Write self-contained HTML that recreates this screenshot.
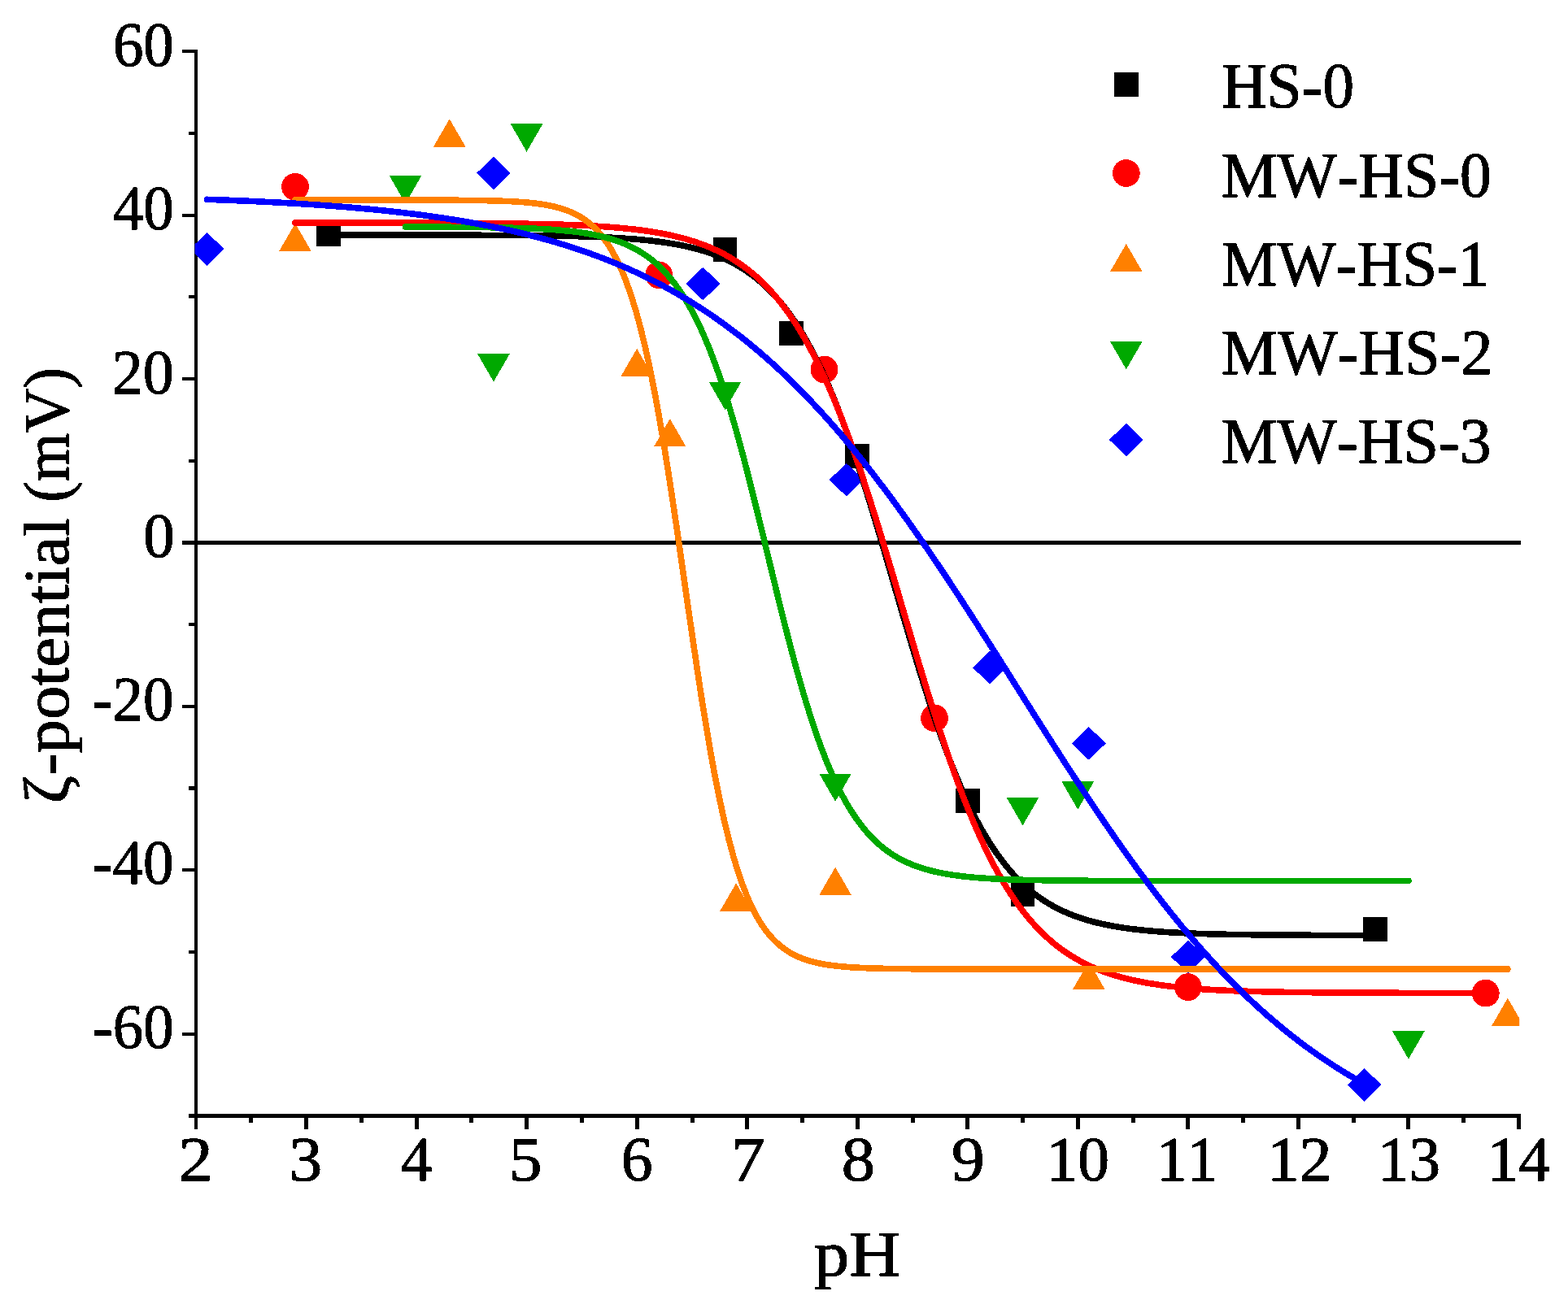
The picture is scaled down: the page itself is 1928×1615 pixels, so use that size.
<!DOCTYPE html>
<html lang="en"><head><meta charset="utf-8"><title>ζ-potential vs pH</title>
<style>html,body{margin:0;padding:0;background:#fff}body{width:1928px;height:1615px}svg{display:block}text{font-family:"Liberation Serif",serif;fill:#000;font-kerning:none;white-space:pre;text-rendering:geometricPrecision}</style>
</head><body>
<svg width="1928" height="1615" viewBox="0 0 1928 1615" shape-rendering="crispEdges">
<rect width="1928" height="1615" fill="#fff"/>
<defs><filter id="bin" x="0" y="0" width="1928" height="1615" filterUnits="userSpaceOnUse" color-interpolation-filters="sRGB"><feComponentTransfer><feFuncA type="discrete" tableValues="0 1 1"/></feComponentTransfer></filter>
<clipPath id="plot"><rect x="239.60" y="0" width="1628.60" height="1372.50"/></clipPath></defs>
<g fill="#000"><rect x="239.20" y="60.90" width="3.80" height="1328.00"/><rect x="232.00" y="1370.00" width="1638.10" height="5.00"/><rect x="223.90" y="60.88" width="17.20" height="4.15"/><rect x="232.00" y="161.61" width="9.10" height="4.15"/><rect x="223.90" y="263.12" width="17.20" height="4.15"/><rect x="232.00" y="363.08" width="9.10" height="4.15"/><rect x="223.90" y="463.93" width="17.20" height="4.15"/><rect x="232.00" y="564.55" width="9.10" height="4.15"/><rect x="223.90" y="665.38" width="17.20" height="4.15"/><rect x="232.00" y="766.02" width="9.10" height="4.15"/><rect x="223.90" y="866.82" width="17.20" height="4.15"/><rect x="232.00" y="967.49" width="9.10" height="4.15"/><rect x="223.90" y="1068.22" width="17.20" height="4.15"/><rect x="232.00" y="1168.96" width="9.10" height="4.15"/><rect x="223.90" y="1269.69" width="17.20" height="4.15"/><rect x="306.37" y="1372.50" width="5.00" height="8.50"/><rect x="374.13" y="1372.50" width="5.00" height="16.40"/><rect x="441.90" y="1372.50" width="5.00" height="8.50"/><rect x="509.67" y="1372.50" width="5.00" height="16.40"/><rect x="577.43" y="1372.50" width="5.00" height="8.50"/><rect x="645.20" y="1372.50" width="5.00" height="16.40"/><rect x="712.97" y="1372.50" width="5.00" height="8.50"/><rect x="780.73" y="1372.50" width="5.00" height="16.40"/><rect x="848.50" y="1372.50" width="5.00" height="8.50"/><rect x="916.27" y="1372.50" width="5.00" height="16.40"/><rect x="984.03" y="1372.50" width="5.00" height="8.50"/><rect x="1051.80" y="1372.50" width="5.00" height="16.40"/><rect x="1119.57" y="1372.50" width="5.00" height="8.50"/><rect x="1187.33" y="1372.50" width="5.00" height="16.40"/><rect x="1255.10" y="1372.50" width="5.00" height="8.50"/><rect x="1322.87" y="1372.50" width="5.00" height="16.40"/><rect x="1390.63" y="1372.50" width="5.00" height="8.50"/><rect x="1458.40" y="1372.50" width="5.00" height="16.40"/><rect x="1526.17" y="1372.50" width="5.00" height="8.50"/><rect x="1593.93" y="1372.50" width="5.00" height="16.40"/><rect x="1661.70" y="1372.50" width="5.00" height="8.50"/><rect x="1729.47" y="1372.50" width="5.00" height="16.40"/><rect x="1797.23" y="1372.50" width="5.00" height="8.50"/><rect x="1865.00" y="1372.50" width="5.00" height="16.40"/><rect x="241.10" y="665.00" width="1629.00" height="5.00"/></g>
<g clip-path="url(#plot)">
<g fill="#000000"><rect x="388.74" y="273.10" width="29.80" height="29.80"/><rect x="876.66" y="291.80" width="29.80" height="29.80"/><rect x="957.98" y="395.10" width="29.80" height="29.80"/><rect x="1039.30" y="545.80" width="29.80" height="29.80"/><rect x="1174.83" y="970.00" width="29.80" height="29.80"/><rect x="1242.60" y="1084.90" width="29.80" height="29.80"/><rect x="1676.31" y="1128.10" width="29.80" height="29.80"/></g>
<g fill="#ff0000"><circle cx="362.98" cy="229.80" r="16.90"/><circle cx="810.24" cy="338.30" r="16.90"/><circle cx="1013.54" cy="454.60" r="16.90"/><circle cx="1149.07" cy="883.30" r="16.90"/><circle cx="1460.80" cy="1214.10" r="16.90"/><circle cx="1826.74" cy="1221.60" r="16.90"/></g>
<g fill="#ff8000"><path d="M362.98 274.70L382.78 309.00L343.18 309.00Z"/><path d="M552.73 146.30L572.53 180.60L532.93 180.60Z"/><path d="M783.13 428.80L802.93 463.10L763.33 463.10Z"/><path d="M823.79 515.10L843.59 549.40L803.99 549.40Z"/><path d="M905.11 1086.30L924.91 1120.60L885.31 1120.60Z"/><path d="M1027.09 1066.60L1046.89 1100.90L1007.29 1100.90Z"/><path d="M1338.82 1182.70L1358.62 1217.00L1319.02 1217.00Z"/><path d="M1853.85 1227.70L1873.65 1262.00L1834.05 1262.00Z"/></g>
<g fill="#00a900"><path d="M478.71 216.10L518.31 216.10L498.51 250.40Z"/><path d="M587.14 435.30L626.74 435.30L606.94 469.60Z"/><path d="M627.80 152.40L667.40 152.40L647.60 186.70Z"/><path d="M871.76 469.90L911.36 469.90L891.56 504.20Z"/><path d="M1007.29 951.60L1046.89 951.60L1027.09 985.90Z"/><path d="M1237.70 981.10L1277.30 981.10L1257.50 1015.40Z"/><path d="M1305.47 961.40L1345.07 961.40L1325.27 995.70Z"/><path d="M1712.07 1268.40L1751.67 1268.40L1731.87 1302.70Z"/></g>
<g fill="#0000ff"><path d="M254.55 285.80L275.45 306.20L254.55 326.60L233.65 306.20Z"/><path d="M606.94 192.50L627.84 212.90L606.94 233.30L586.04 212.90Z"/><path d="M864.45 328.60L885.35 349.00L864.45 369.40L843.55 349.00Z"/><path d="M1040.65 569.70L1061.55 590.10L1040.65 610.50L1019.75 590.10Z"/><path d="M1216.84 800.70L1237.74 821.10L1216.84 841.50L1195.94 821.10Z"/><path d="M1338.82 894.00L1359.72 914.40L1338.82 934.80L1317.92 914.40Z"/><path d="M1460.80 1156.60L1481.70 1177.00L1460.80 1197.40L1439.90 1177.00Z"/><path d="M1677.65 1313.90L1698.55 1334.30L1677.65 1354.70L1656.75 1334.30Z"/></g>
<path d="M403.6 289.0L408.6 289.0L413.5 289.0L418.5 289.0L423.4 289.0L428.4 289.0L433.4 289.0L438.3 289.0L443.3 289.0L448.2 289.0L453.2 289.0L458.1 289.0L463.1 289.0L468.0 289.0L473.0 289.0L477.9 289.0L482.9 289.0L487.8 289.0L492.8 289.1L497.7 289.1L502.7 289.1L507.6 289.1L512.6 289.1L517.5 289.1L522.5 289.1L527.4 289.1L532.4 289.1L537.3 289.1L542.3 289.1L547.3 289.1L552.2 289.1L557.2 289.1L562.1 289.2L567.1 289.2L572.0 289.2L577.0 289.2L581.9 289.2L586.9 289.2L591.8 289.3L596.8 289.3L601.7 289.3L606.7 289.3L611.6 289.3L616.6 289.4L621.5 289.4L626.5 289.4L631.4 289.5L636.4 289.5L641.3 289.6L646.3 289.6L651.2 289.7L656.2 289.7L661.2 289.8L666.1 289.8L671.1 289.9L676.0 290.0L681.0 290.0L685.9 290.1L690.9 290.2L695.8 290.3L700.8 290.4L705.7 290.6L710.7 290.7L715.6 290.8L720.6 291.0L725.5 291.1L730.5 291.3L735.4 291.5L740.4 291.7L745.3 291.9L750.3 292.2L755.2 292.4L760.2 292.7L765.1 293.0L770.1 293.4L775.1 293.7L780.0 294.1L785.0 294.5L789.9 295.0L794.9 295.5L799.8 296.0L804.8 296.6L809.7 297.2L814.7 297.9L819.6 298.6L824.6 299.4L829.5 300.2L834.5 301.1L839.4 302.1L844.4 303.2L849.3 304.3L854.3 305.6L859.2 306.9L864.2 308.4L869.1 309.9L874.1 311.6L879.0 313.4L884.0 315.4L889.0 317.5L893.9 319.8L898.9 322.2L903.8 324.8L908.8 327.7L913.7 330.7L918.7 334.0L923.6 337.5L928.6 341.2L933.5 345.3L938.5 349.6L943.4 354.2L948.4 359.2L953.3 364.5L958.3 370.1L963.2 376.1L968.2 382.6L973.1 389.4L978.1 396.7L983.0 404.4L988.0 412.5L992.9 421.2L997.9 430.3L1002.9 439.9L1007.8 450.1L1012.8 460.7L1017.7 471.9L1022.7 483.6L1027.6 495.8L1032.6 508.5L1037.5 521.8L1042.5 535.5L1047.4 549.7L1052.4 564.4L1057.3 579.4L1062.3 594.9L1067.2 610.8L1072.2 626.9L1077.1 643.4L1082.1 660.0L1087.0 676.9L1092.0 693.9L1096.9 710.9L1101.9 728.0L1106.8 745.1L1111.8 762.1L1116.8 778.9L1121.7 795.6L1126.7 812.1L1131.6 828.2L1136.6 844.1L1141.5 859.6L1146.5 874.7L1151.4 889.3L1156.4 903.5L1161.3 917.3L1166.3 930.5L1171.2 943.3L1176.2 955.5L1181.1 967.2L1186.1 978.4L1191.0 989.1L1196.0 999.3L1200.9 1008.9L1205.9 1018.1L1210.8 1026.7L1215.8 1034.9L1220.7 1042.6L1225.7 1049.9L1230.7 1056.7L1235.6 1063.2L1240.6 1069.2L1245.5 1074.9L1250.5 1080.2L1255.4 1085.1L1260.4 1089.8L1265.3 1094.1L1270.3 1098.1L1275.2 1101.9L1280.2 1105.4L1285.1 1108.7L1290.1 1111.7L1295.0 1114.6L1300.0 1117.2L1304.9 1119.7L1309.9 1121.9L1314.8 1124.0L1319.8 1126.0L1324.7 1127.8L1329.7 1129.5L1334.6 1131.1L1339.6 1132.5L1344.6 1133.9L1349.5 1135.1L1354.5 1136.3L1359.4 1137.3L1364.4 1138.3L1369.3 1139.3L1374.3 1140.1L1379.2 1140.9L1384.2 1141.6L1389.1 1142.3L1394.1 1142.9L1399.0 1143.5L1404.0 1144.0L1408.9 1144.5L1413.9 1145.0L1418.8 1145.4L1423.8 1145.8L1428.7 1146.1L1433.7 1146.5L1438.6 1146.8L1443.6 1147.0L1448.5 1147.3L1453.5 1147.6L1458.5 1147.8L1463.4 1148.0L1468.4 1148.2L1473.3 1148.4L1478.3 1148.5L1483.2 1148.7L1488.2 1148.8L1493.1 1148.9L1498.1 1149.1L1503.0 1149.2L1508.0 1149.3L1512.9 1149.4L1517.9 1149.4L1522.8 1149.5L1527.8 1149.6L1532.7 1149.7L1537.7 1149.7L1542.6 1149.8L1547.6 1149.8L1552.5 1149.9L1557.5 1149.9L1562.4 1150.0L1567.4 1150.0L1572.4 1150.1L1577.3 1150.1L1582.3 1150.1L1587.2 1150.2L1592.2 1150.2L1597.1 1150.2L1602.1 1150.2L1607.0 1150.2L1612.0 1150.3L1616.9 1150.3L1621.9 1150.3L1626.8 1150.3L1631.8 1150.3L1636.7 1150.3L1641.7 1150.4L1646.6 1150.4L1651.6 1150.4L1656.5 1150.4L1661.5 1150.4L1666.4 1150.4L1671.4 1150.4L1676.4 1150.4L1681.3 1150.4L1686.3 1150.4L1691.2 1150.4" fill="none" stroke="#000000" stroke-width="7.60" stroke-linecap="round" stroke-linejoin="round"/>
<path d="M363.0 274.0L368.6 274.0L374.2 274.0L379.9 274.0L385.5 274.0L391.1 274.0L396.8 274.0L402.4 274.0L408.0 274.0L413.6 274.0L419.3 274.0L424.9 274.0L430.5 274.1L436.2 274.1L441.8 274.1L447.4 274.1L453.1 274.1L458.7 274.1L464.3 274.1L469.9 274.1L475.6 274.1L481.2 274.1L486.8 274.1L492.5 274.1L498.1 274.1L503.7 274.2L509.4 274.2L515.0 274.2L520.6 274.2L526.2 274.2L531.9 274.2L537.5 274.3L543.1 274.3L548.8 274.3L554.4 274.3L560.0 274.3L565.7 274.4L571.3 274.4L576.9 274.4L582.5 274.5L588.2 274.5L593.8 274.6L599.4 274.6L605.1 274.7L610.7 274.7L616.3 274.8L622.0 274.8L627.6 274.9L633.2 275.0L638.8 275.1L644.5 275.2L650.1 275.3L655.7 275.4L661.4 275.5L667.0 275.6L672.6 275.8L678.3 275.9L683.9 276.1L689.5 276.2L695.1 276.4L700.8 276.6L706.4 276.8L712.0 277.1L717.7 277.3L723.3 277.6L728.9 277.9L734.5 278.3L740.2 278.6L745.8 279.0L751.4 279.4L757.1 279.9L762.7 280.4L768.3 280.9L774.0 281.5L779.6 282.1L785.2 282.8L790.8 283.5L796.5 284.3L802.1 285.2L807.7 286.1L813.4 287.1L819.0 288.2L824.6 289.4L830.3 290.7L835.9 292.1L841.5 293.5L847.1 295.2L852.8 296.9L858.4 298.8L864.0 300.8L869.7 303.0L875.3 305.4L880.9 307.9L886.6 310.7L892.2 313.6L897.8 316.8L903.4 320.3L909.1 324.0L914.7 327.9L920.3 332.2L926.0 336.8L931.6 341.7L937.2 347.0L942.9 352.6L948.5 358.7L954.1 365.1L959.7 372.0L965.4 379.4L971.0 387.2L976.6 395.6L982.3 404.4L987.9 413.8L993.5 423.7L999.2 434.2L1004.8 445.3L1010.4 456.9L1016.0 469.2L1021.7 482.0L1027.3 495.5L1032.9 509.5L1038.6 524.2L1044.2 539.4L1049.8 555.1L1055.5 571.4L1061.1 588.2L1066.7 605.4L1072.3 623.0L1078.0 641.1L1083.6 659.5L1089.2 678.1L1094.9 697.0L1100.5 716.0L1106.1 735.2L1111.7 754.3L1117.4 773.5L1123.0 792.6L1128.6 811.5L1134.3 830.2L1139.9 848.7L1145.5 866.8L1151.2 884.6L1156.8 902.0L1162.4 918.9L1168.0 935.3L1173.7 951.3L1179.3 966.6L1184.9 981.4L1190.6 995.7L1196.2 1009.3L1201.8 1022.3L1207.5 1034.8L1213.1 1046.6L1218.7 1057.9L1224.3 1068.5L1230.0 1078.6L1235.6 1088.2L1241.2 1097.2L1246.9 1105.7L1252.5 1113.7L1258.1 1121.1L1263.8 1128.2L1269.4 1134.8L1275.0 1140.9L1280.6 1146.7L1286.3 1152.1L1291.9 1157.1L1297.5 1161.8L1303.2 1166.2L1308.8 1170.2L1314.4 1174.0L1320.1 1177.5L1325.7 1180.8L1331.3 1183.8L1336.9 1186.7L1342.6 1189.3L1348.2 1191.7L1353.8 1193.9L1359.5 1196.0L1365.1 1197.9L1370.7 1199.7L1376.4 1201.4L1382.0 1202.9L1387.6 1204.3L1393.2 1205.6L1398.9 1206.8L1404.5 1207.9L1410.1 1209.0L1415.8 1209.9L1421.4 1210.8L1427.0 1211.6L1432.7 1212.4L1438.3 1213.1L1443.9 1213.7L1449.5 1214.3L1455.2 1214.9L1460.8 1215.4L1466.4 1215.8L1472.1 1216.3L1477.7 1216.7L1483.3 1217.0L1488.9 1217.4L1494.6 1217.7L1500.2 1218.0L1505.8 1218.2L1511.5 1218.5L1517.1 1218.7L1522.7 1218.9L1528.4 1219.1L1534.0 1219.3L1539.6 1219.5L1545.2 1219.6L1550.9 1219.7L1556.5 1219.9L1562.1 1220.0L1567.8 1220.1L1573.4 1220.2L1579.0 1220.3L1584.7 1220.4L1590.3 1220.5L1595.9 1220.5L1601.5 1220.6L1607.2 1220.7L1612.8 1220.7L1618.4 1220.8L1624.1 1220.8L1629.7 1220.9L1635.3 1220.9L1641.0 1220.9L1646.6 1221.0L1652.2 1221.0L1657.8 1221.0L1663.5 1221.1L1669.1 1221.1L1674.7 1221.1L1680.4 1221.1L1686.0 1221.2L1691.6 1221.2L1697.3 1221.2L1702.9 1221.2L1708.5 1221.2L1714.1 1221.2L1719.8 1221.3L1725.4 1221.3L1731.0 1221.3L1736.7 1221.3L1742.3 1221.3L1747.9 1221.3L1753.6 1221.3L1759.2 1221.3L1764.8 1221.3L1770.4 1221.3L1776.1 1221.3L1781.7 1221.3L1787.3 1221.3L1793.0 1221.3L1798.6 1221.4L1804.2 1221.4L1809.9 1221.4L1815.5 1221.4L1821.1 1221.4L1826.7 1221.4" fill="none" stroke="#ff0000" stroke-width="7.60" stroke-linecap="round" stroke-linejoin="round"/>
<path d="M363.0 246.0L368.7 246.0L374.4 246.0L380.2 246.0L385.9 246.0L391.7 246.0L397.4 246.0L403.1 246.0L408.9 246.0L414.6 246.0L420.3 246.0L426.1 246.0L431.8 246.0L437.5 246.0L443.3 246.0L449.0 246.0L454.7 246.0L460.5 246.0L466.2 246.0L471.9 246.0L477.7 246.0L483.4 246.0L489.1 246.0L494.9 246.0L500.6 246.0L506.3 246.0L512.1 246.1L517.8 246.1L523.5 246.1L529.3 246.1L535.0 246.1L540.7 246.1L546.5 246.2L552.2 246.2L557.9 246.2L563.7 246.3L569.4 246.3L575.1 246.4L580.9 246.4L586.6 246.5L592.3 246.6L598.1 246.7L603.8 246.8L609.5 247.0L615.3 247.2L621.0 247.4L626.7 247.6L632.5 247.9L638.2 248.3L644.0 248.7L649.7 249.2L655.4 249.8L661.2 250.5L666.9 251.3L672.6 252.3L678.4 253.4L684.1 254.8L689.8 256.4L695.6 258.3L701.3 260.5L707.0 263.1L712.8 266.2L718.5 269.9L724.2 274.1L730.0 279.1L735.7 285.0L741.4 291.9L747.2 299.9L752.9 309.1L758.6 319.9L764.4 332.3L770.1 346.5L775.8 362.8L781.6 381.3L787.3 402.2L793.0 425.5L798.8 451.5L804.5 480.1L810.2 511.2L816.0 544.7L821.7 580.4L827.4 617.8L833.2 656.7L838.9 696.4L844.6 736.5L850.4 776.3L856.1 815.3L861.8 853.0L867.6 888.9L873.3 922.7L879.0 954.2L884.8 983.0L890.5 1009.3L896.3 1033.0L902.0 1054.2L907.7 1073.0L913.5 1089.5L919.2 1104.0L924.9 1116.6L930.7 1127.6L936.4 1137.1L942.1 1145.2L947.9 1152.2L953.6 1158.2L959.3 1163.3L965.1 1167.6L970.8 1171.4L976.5 1174.5L982.3 1177.2L988.0 1179.5L993.7 1181.4L999.5 1183.0L1005.2 1184.4L1010.9 1185.6L1016.7 1186.6L1022.4 1187.4L1028.1 1188.1L1033.9 1188.7L1039.6 1189.2L1045.3 1189.7L1051.1 1190.0L1056.8 1190.3L1062.5 1190.6L1068.3 1190.8L1074.0 1191.0L1079.7 1191.2L1085.5 1191.3L1091.2 1191.4L1096.9 1191.5L1102.7 1191.6L1108.4 1191.6L1114.1 1191.7L1119.9 1191.7L1125.6 1191.8L1131.3 1191.8L1137.1 1191.8L1142.8 1191.9L1148.6 1191.9L1154.3 1191.9L1160.0 1191.9L1165.8 1191.9L1171.5 1191.9L1177.2 1192.0L1183.0 1192.0L1188.7 1192.0L1194.4 1192.0L1200.2 1192.0L1205.9 1192.0L1211.6 1192.0L1217.4 1192.0L1223.1 1192.0L1228.8 1192.0L1234.6 1192.0L1240.3 1192.0L1246.0 1192.0L1251.8 1192.0L1257.5 1192.0L1263.2 1192.0L1269.0 1192.0L1274.7 1192.0L1280.4 1192.0L1286.2 1192.0L1291.9 1192.0L1297.6 1192.0L1303.4 1192.0L1309.1 1192.0L1314.8 1192.0L1320.6 1192.0L1326.3 1192.0L1332.0 1192.0L1337.8 1192.0L1343.5 1192.0L1349.2 1192.0L1355.0 1192.0L1360.7 1192.0L1366.4 1192.0L1372.2 1192.0L1377.9 1192.0L1383.7 1192.0L1389.4 1192.0L1395.1 1192.0L1400.9 1192.0L1406.6 1192.0L1412.3 1192.0L1418.1 1192.0L1423.8 1192.0L1429.5 1192.0L1435.3 1192.0L1441.0 1192.0L1446.7 1192.0L1452.5 1192.0L1458.2 1192.0L1463.9 1192.0L1469.7 1192.0L1475.4 1192.0L1481.1 1192.0L1486.9 1192.0L1492.6 1192.0L1498.3 1192.0L1504.1 1192.0L1509.8 1192.0L1515.5 1192.0L1521.3 1192.0L1527.0 1192.0L1532.7 1192.0L1538.5 1192.0L1544.2 1192.0L1549.9 1192.0L1555.7 1192.0L1561.4 1192.0L1567.1 1192.0L1572.9 1192.0L1578.6 1192.0L1584.3 1192.0L1590.1 1192.0L1595.8 1192.0L1601.5 1192.0L1607.3 1192.0L1613.0 1192.0L1618.7 1192.0L1624.5 1192.0L1630.2 1192.0L1636.0 1192.0L1641.7 1192.0L1647.4 1192.0L1653.2 1192.0L1658.9 1192.0L1664.6 1192.0L1670.4 1192.0L1676.1 1192.0L1681.8 1192.0L1687.6 1192.0L1693.3 1192.0L1699.0 1192.0L1704.8 1192.0L1710.5 1192.0L1716.2 1192.0L1722.0 1192.0L1727.7 1192.0L1733.4 1192.0L1739.2 1192.0L1744.9 1192.0L1750.6 1192.0L1756.4 1192.0L1762.1 1192.0L1767.8 1192.0L1773.6 1192.0L1779.3 1192.0L1785.0 1192.0L1790.8 1192.0L1796.5 1192.0L1802.2 1192.0L1808.0 1192.0L1813.7 1192.0L1819.4 1192.0L1825.2 1192.0L1830.9 1192.0L1836.6 1192.0L1842.4 1192.0L1848.1 1192.0L1853.8 1192.0" fill="none" stroke="#ff8000" stroke-width="7.60" stroke-linecap="round" stroke-linejoin="round"/>
<path d="M498.5 279.1L503.3 279.1L508.0 279.1L512.7 279.1L517.5 279.1L522.2 279.1L527.0 279.1L531.7 279.2L536.5 279.2L541.2 279.2L546.0 279.2L550.7 279.2L555.4 279.3L560.2 279.3L564.9 279.3L569.7 279.4L574.4 279.4L579.2 279.4L583.9 279.5L588.6 279.5L593.4 279.6L598.1 279.6L602.9 279.7L607.6 279.8L612.4 279.9L617.1 280.0L621.8 280.1L626.6 280.2L631.3 280.3L636.1 280.4L640.8 280.6L645.6 280.7L650.3 280.9L655.1 281.1L659.8 281.3L664.5 281.5L669.3 281.8L674.0 282.1L678.8 282.4L683.5 282.7L688.3 283.1L693.0 283.6L697.7 284.0L702.5 284.5L707.2 285.1L712.0 285.7L716.7 286.4L721.5 287.1L726.2 288.0L731.0 288.9L735.7 289.9L740.4 291.0L745.2 292.2L749.9 293.5L754.7 295.0L759.4 296.6L764.2 298.4L768.9 300.3L773.6 302.4L778.4 304.8L783.1 307.3L787.9 310.1L792.6 313.2L797.4 316.5L802.1 320.2L806.9 324.2L811.6 328.5L816.3 333.3L821.1 338.5L825.8 344.1L830.6 350.2L835.3 356.8L840.1 363.9L844.8 371.6L849.5 380.0L854.3 388.9L859.0 398.5L863.8 408.8L868.5 419.8L873.3 431.6L878.0 444.0L882.8 457.2L887.5 471.2L892.2 485.8L897.0 501.2L901.7 517.3L906.5 534.0L911.2 551.3L916.0 569.2L920.7 587.6L925.4 606.4L930.2 625.6L934.9 645.0L939.7 664.6L944.4 684.2L949.2 703.9L953.9 723.4L958.6 742.8L963.4 761.8L968.1 780.5L972.9 798.7L977.6 816.5L982.4 833.6L987.1 850.1L991.9 866.0L996.6 881.2L1001.3 895.6L1006.1 909.3L1010.8 922.3L1015.6 934.6L1020.3 946.1L1025.1 956.9L1029.8 966.9L1034.5 976.4L1039.3 985.1L1044.0 993.3L1048.8 1000.8L1053.5 1007.8L1058.3 1014.2L1063.0 1020.2L1067.8 1025.7L1072.5 1030.7L1077.2 1035.3L1082.0 1039.6L1086.7 1043.5L1091.5 1047.0L1096.2 1050.3L1101.0 1053.3L1105.7 1056.0L1110.4 1058.5L1115.2 1060.7L1119.9 1062.8L1124.7 1064.7L1129.4 1066.4L1134.2 1068.0L1138.9 1069.4L1143.7 1070.7L1148.4 1071.9L1153.1 1072.9L1157.9 1073.9L1162.6 1074.8L1167.4 1075.6L1172.1 1076.3L1176.9 1077.0L1181.6 1077.6L1186.3 1078.1L1191.1 1078.6L1195.8 1079.1L1200.6 1079.5L1205.3 1079.9L1210.1 1080.2L1214.8 1080.5L1219.6 1080.8L1224.3 1081.0L1229.0 1081.3L1233.8 1081.5L1238.5 1081.7L1243.3 1081.8L1248.0 1082.0L1252.8 1082.1L1257.5 1082.3L1262.2 1082.4L1267.0 1082.5L1271.7 1082.6L1276.5 1082.7L1281.2 1082.7L1286.0 1082.8L1290.7 1082.9L1295.4 1082.9L1300.2 1083.0L1304.9 1083.0L1309.7 1083.1L1314.4 1083.1L1319.2 1083.2L1323.9 1083.2L1328.7 1083.2L1333.4 1083.2L1338.1 1083.3L1342.9 1083.3L1347.6 1083.3L1352.4 1083.3L1357.1 1083.3L1361.9 1083.4L1366.6 1083.4L1371.3 1083.4L1376.1 1083.4L1380.8 1083.4L1385.6 1083.4L1390.3 1083.4L1395.1 1083.4L1399.8 1083.4L1404.6 1083.4L1409.3 1083.4L1414.0 1083.5L1418.8 1083.5L1423.5 1083.5L1428.3 1083.5L1433.0 1083.5L1437.8 1083.5L1442.5 1083.5L1447.2 1083.5L1452.0 1083.5L1456.7 1083.5L1461.5 1083.5L1466.2 1083.5L1471.0 1083.5L1475.7 1083.5L1480.5 1083.5L1485.2 1083.5L1489.9 1083.5L1494.7 1083.5L1499.4 1083.5L1504.2 1083.5L1508.9 1083.5L1513.7 1083.5L1518.4 1083.5L1523.1 1083.5L1527.9 1083.5L1532.6 1083.5L1537.4 1083.5L1542.1 1083.5L1546.9 1083.5L1551.6 1083.5L1556.4 1083.5L1561.1 1083.5L1565.8 1083.5L1570.6 1083.5L1575.3 1083.5L1580.1 1083.5L1584.8 1083.5L1589.6 1083.5L1594.3 1083.5L1599.0 1083.5L1603.8 1083.5L1608.5 1083.5L1613.3 1083.5L1618.0 1083.5L1622.8 1083.5L1627.5 1083.5L1632.2 1083.5L1637.0 1083.5L1641.7 1083.5L1646.5 1083.5L1651.2 1083.5L1656.0 1083.5L1660.7 1083.5L1665.5 1083.5L1670.2 1083.5L1674.9 1083.5L1679.7 1083.5L1684.4 1083.5L1689.2 1083.5L1693.9 1083.5L1698.7 1083.5L1703.4 1083.5L1708.1 1083.5L1712.9 1083.5L1717.6 1083.5L1722.4 1083.5L1727.1 1083.5L1731.9 1083.5" fill="none" stroke="#00a900" stroke-width="7.60" stroke-linecap="round" stroke-linejoin="round"/>
<path d="M254.6 245.3L260.0 245.5L265.5 245.7L271.0 245.9L276.4 246.1L281.9 246.3L287.4 246.5L292.9 246.8L298.3 247.0L303.8 247.2L309.3 247.5L314.8 247.7L320.2 248.0L325.7 248.3L331.2 248.5L336.7 248.8L342.1 249.1L347.6 249.4L353.1 249.7L358.5 250.0L364.0 250.3L369.5 250.7L375.0 251.0L380.4 251.4L385.9 251.7L391.4 252.1L396.9 252.5L402.3 252.9L407.8 253.3L413.3 253.7L418.8 254.1L424.2 254.6L429.7 255.0L435.2 255.5L440.7 256.0L446.1 256.5L451.6 257.0L457.1 257.5L462.5 258.1L468.0 258.6L473.5 259.2L479.0 259.8L484.4 260.4L489.9 261.0L495.4 261.6L500.9 262.3L506.3 262.9L511.8 263.6L517.3 264.3L522.8 265.0L528.2 265.8L533.7 266.6L539.2 267.4L544.6 268.2L550.1 269.0L555.6 269.9L561.1 270.7L566.5 271.6L572.0 272.6L577.5 273.5L583.0 274.5L588.4 275.5L593.9 276.6L599.4 277.6L604.9 278.7L610.3 279.8L615.8 281.0L621.3 282.2L626.7 283.4L632.2 284.6L637.7 285.9L643.2 287.2L648.6 288.6L654.1 290.0L659.6 291.4L665.1 292.9L670.5 294.4L676.0 295.9L681.5 297.5L687.0 299.1L692.4 300.8L697.9 302.5L703.4 304.2L708.9 306.0L714.3 307.9L719.8 309.8L725.3 311.7L730.7 313.7L736.2 315.7L741.7 317.8L747.2 320.0L752.6 322.2L758.1 324.4L763.6 326.7L769.1 329.1L774.5 331.5L780.0 334.0L785.5 336.6L791.0 339.2L796.4 341.9L801.9 344.6L807.4 347.4L812.8 350.3L818.3 353.2L823.8 356.2L829.3 359.3L834.7 362.4L840.2 365.7L845.7 368.9L851.2 372.3L856.6 375.8L862.1 379.3L867.6 382.9L873.1 386.6L878.5 390.3L884.0 394.2L889.5 398.1L894.9 402.1L900.4 406.2L905.9 410.4L911.4 414.6L916.8 419.0L922.3 423.4L927.8 428.0L933.3 432.6L938.7 437.3L944.2 442.1L949.7 447.0L955.2 452.0L960.6 457.1L966.1 462.3L971.6 467.5L977.1 472.9L982.5 478.4L988.0 483.9L993.5 489.6L998.9 495.3L1004.4 501.2L1009.9 507.1L1015.4 513.2L1020.8 519.3L1026.3 525.5L1031.8 531.8L1037.3 538.3L1042.7 544.8L1048.2 551.4L1053.7 558.1L1059.2 564.8L1064.6 571.7L1070.1 578.7L1075.6 585.7L1081.0 592.9L1086.5 600.1L1092.0 607.4L1097.5 614.8L1102.9 622.3L1108.4 629.8L1113.9 637.5L1119.4 645.2L1124.8 652.9L1130.3 660.8L1135.8 668.7L1141.3 676.7L1146.7 684.7L1152.2 692.9L1157.7 701.0L1163.1 709.2L1168.6 717.5L1174.1 725.8L1179.6 734.2L1185.0 742.6L1190.5 751.1L1196.0 759.6L1201.5 768.1L1206.9 776.7L1212.4 785.2L1217.9 793.8L1223.4 802.5L1228.8 811.1L1234.3 819.8L1239.8 828.4L1245.2 837.1L1250.7 845.8L1256.2 854.5L1261.7 863.2L1267.1 871.8L1272.6 880.5L1278.1 889.1L1283.6 897.7L1289.0 906.3L1294.5 914.9L1300.0 923.5L1305.5 932.0L1310.9 940.5L1316.4 948.9L1321.9 957.3L1327.4 965.6L1332.8 973.9L1338.3 982.2L1343.8 990.4L1349.2 998.5L1354.7 1006.6L1360.2 1014.7L1365.7 1022.6L1371.1 1030.5L1376.6 1038.3L1382.1 1046.1L1387.6 1053.8L1393.0 1061.4L1398.5 1068.9L1404.0 1076.3L1409.5 1083.7L1414.9 1091.0L1420.4 1098.2L1425.9 1105.3L1431.3 1112.3L1436.8 1119.2L1442.3 1126.1L1447.8 1132.8L1453.2 1139.5L1458.7 1146.0L1464.2 1152.5L1469.7 1158.9L1475.1 1165.2L1480.6 1171.4L1486.1 1177.5L1491.6 1183.5L1497.0 1189.4L1502.5 1195.2L1508.0 1200.9L1513.4 1206.5L1518.9 1212.0L1524.4 1217.5L1529.9 1222.8L1535.3 1228.0L1540.8 1233.2L1546.3 1238.2L1551.8 1243.2L1557.2 1248.1L1562.7 1252.8L1568.2 1257.5L1573.7 1262.1L1579.1 1266.6L1584.6 1271.0L1590.1 1275.3L1595.6 1279.6L1601.0 1283.7L1606.5 1287.8L1612.0 1291.7L1617.4 1295.6L1622.9 1299.5L1628.4 1303.2L1633.9 1306.8L1639.3 1310.4L1644.8 1313.9L1650.3 1317.3L1655.8 1320.7L1661.2 1323.9L1666.7 1327.1L1672.2 1330.2L1677.7 1333.3" fill="none" stroke="#0000ff" stroke-width="7.60" stroke-linecap="round" stroke-linejoin="round"/>
</g>
<g>
<g fill="#000000"><rect x="1369.90" y="88.90" width="29.80" height="29.80"/></g>
<g fill="#ff0000"><circle cx="1384.80" cy="213.00" r="16.90"/></g>
<g fill="#ff8000"><path d="M1384.80 299.80L1404.60 334.10L1365.00 334.10Z"/></g>
<g fill="#00a900"><path d="M1365.00 420.00L1404.60 420.00L1384.80 454.30Z"/></g>
<g fill="#0000ff"><path d="M1384.80 520.55L1405.70 540.95L1384.80 561.35L1363.90 540.95Z"/></g>
</g>
<g stroke="#000" stroke-width="0.80" stroke-linejoin="round" filter="url(#bin)">
<text transform="translate(138.89 81.00) scale(0.9634 1.0000)" font-size="77.60">60</text>
<text transform="translate(138.63 282.00) scale(0.9668 1.0000)" font-size="77.60">40</text>
<text transform="translate(137.76 484.00) scale(0.9785 1.0000)" font-size="77.60">20</text>
<text transform="translate(176.27 685.00) scale(0.9912 1.0000)" font-size="77.60">0</text>
<text transform="translate(113.51 886.00) scale(0.9682 1.0000)" font-size="77.60">-20</text>
<text transform="translate(113.51 1087.00) scale(0.9682 1.0000)" font-size="77.60">-40</text>
<text transform="translate(113.82 1289.00) scale(0.9651 1.0000)" font-size="77.60">-60</text>
<text transform="translate(219.39 1452.00) scale(1.0865 1.0000)" font-size="77.60">2</text>
<text transform="translate(355.51 1452.00) scale(1.0482 1.0000)" font-size="77.60">3</text>
<text transform="translate(492.80 1452.00) scale(0.9925 1.0000)" font-size="77.60">4</text>
<text transform="translate(625.75 1452.00) scale(1.0525 1.0000)" font-size="77.60">5</text>
<text transform="translate(763.66 1452.00) scale(1.0014 1.0000)" font-size="77.60">6</text>
<text transform="translate(899.02 1452.00) scale(1.0716 1.0000)" font-size="77.60">7</text>
<text transform="translate(1034.76 1452.00) scale(1.0611 1.0000)" font-size="77.60">8</text>
<text transform="translate(1170.07 1452.00) scale(1.0508 1.0000)" font-size="77.60">9</text>
<text transform="translate(1286.50 1452.00) scale(0.9967 1.0000)" font-size="77.60">10</text>
<text transform="translate(1422.34 1452.00) scale(0.9619 1.0000)" font-size="77.60">11</text>
<text transform="translate(1558.01 1452.00) scale(1.0256 1.0000)" font-size="77.60">12</text>
<text transform="translate(1694.03 1452.00) scale(0.9919 1.0000)" font-size="77.60">13</text>
<text transform="translate(1828.81 1452.00) scale(0.9962 1.0000)" font-size="77.60">14</text>
<text transform="translate(1502.18 132.00) scale(0.9758 1.0000)" font-size="79.00">HS-0</text>
<text transform="translate(1501.86 242.00) scale(0.9825 1.0000)" font-size="79.00">MW-HS-0</text>
<text transform="translate(1501.88 351.00) scale(0.9746 1.0000)" font-size="79.00">MW-HS-1</text>
<text transform="translate(1501.75 460.00) scale(0.9880 1.0000)" font-size="79.00">MW-HS-2</text>
<text transform="translate(1501.77 569.00) scale(0.9818 1.0000)" font-size="79.00">MW-HS-3</text>
<text transform="translate(1000.80 1569.00) scale(1.1026 1.0000)" font-size="79.00">pH</text>
<text transform="translate(84.00 988.20) rotate(-90) scale(1.0474 1.0000)" font-size="79.00">ζ-potential</text>
<text transform="translate(84.00 617.76) rotate(-90) scale(0.9691 1.0000)" font-size="79.00">(mV)</text>
</g>
</svg></body></html>
